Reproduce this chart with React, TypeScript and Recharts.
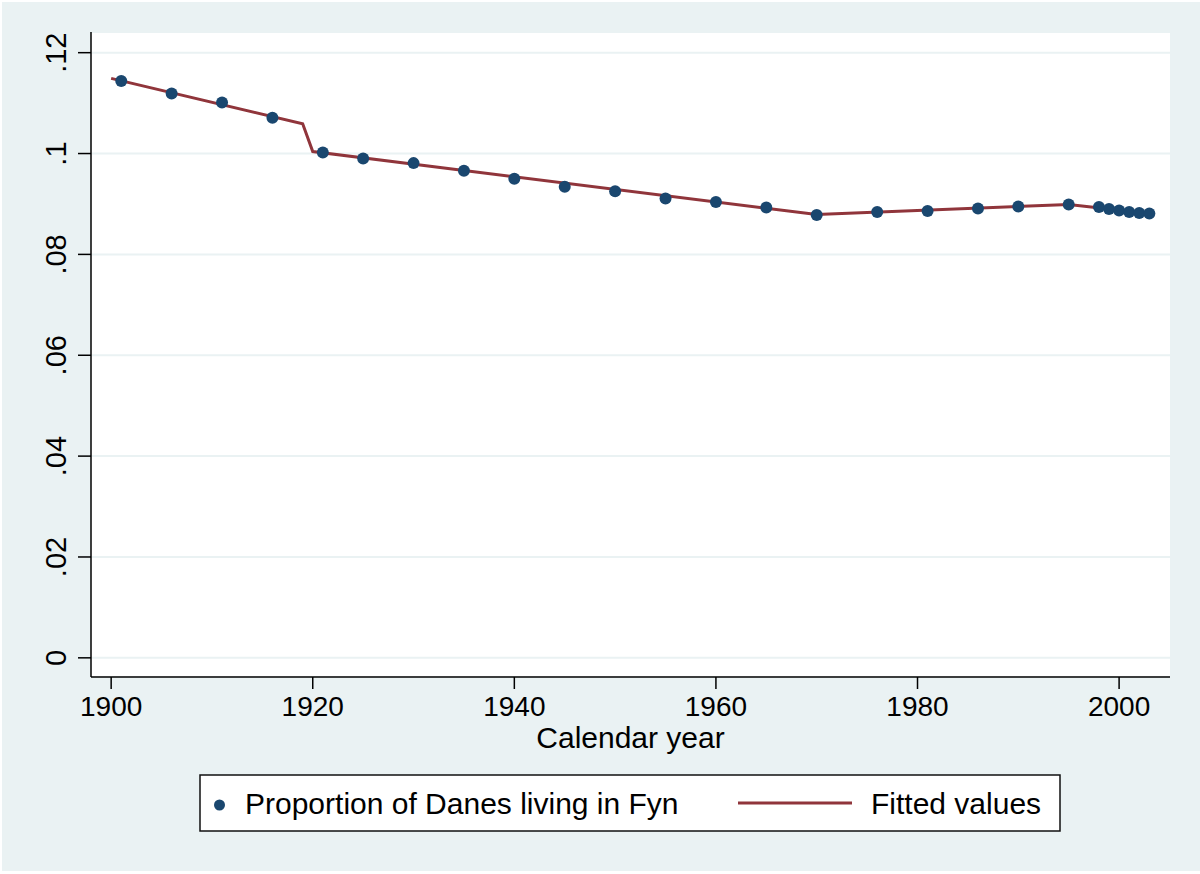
import { CartesianGrid, Label, Scatter, ScatterChart, XAxis, YAxis } from 'recharts';

// observed share of the Danish population living on Fyn
const obsYears = [
	1901, 1906, 1911, 1916, 1921, 1925, 1930, 1935, 1940, 1945, 1950, 1955, 1960,
	1965, 1970, 1976, 1981, 1986, 1990, 1995, 1998, 1999, 2000, 2001, 2002, 2003,
];
const obsShare = [
	0.1144, 0.1119, 0.1101, 0.1071, 0.1002, 0.099, 0.0981, 0.0966, 0.095, 0.0934,
	0.0925, 0.0911, 0.0904, 0.0893, 0.0878, 0.0884, 0.0886, 0.0891, 0.0895, 0.0899,
	0.0894, 0.089, 0.0887, 0.0884, 0.0882, 0.0881,
];

// fitted piecewise line (knots)
const fitYears = [1900, 1919, 1920, 1970, 1995, 2003];
const fitShare = [0.1149, 0.1059, 0.1004, 0.0879, 0.0899, 0.0881];

const xTicks = [1900, 1920, 1940, 1960, 1980, 2000];
const yTicks = [0, 0.02, 0.04, 0.06, 0.08, 0.1, 0.12];

const seriesLabel = 'Proportion of Danes living in Fyn';
const fitLabel = 'Fitted values';
const xTitle = 'Calendar year';

const observed = obsYears.map((year, i) => ({ year, share: obsShare[i] }));
const fitted = fitYears.map((year, i) => ({ year, share: fitShare[i] }));

const BG = '#EAF2F3';
const NAVY = '#1A476F';
const MAROON = '#90353B';
const FONT = '"Liberation Sans", Arial, Helvetica, sans-serif';

function fmtShare(v: number): string {
	if (v === 0) return '0';
	return String(Number(v.toFixed(2))).replace(/^0/, '');
}

const YTick = ({ y, payload }: any) => (
	<text
		x={66}
		y={y}
		transform={`rotate(-90, 66, ${y})`}
		textAnchor="middle"
		fontSize={29}
		fontFamily={FONT}
		fill="#000"
	>
		{fmtShare(payload.value)}
	</text>
);

const Dot = ({ cx, cy }: any) => <circle cx={cx} cy={cy} r={6} fill={NAVY} />;
const NoShape = () => <g />;

export default function App() {
	return (
		<div
			style={{
				position: 'absolute',
				left: 0,
				top: 0,
				width: 1200,
				height: 874,
				background: '#fff',
				fontFamily: FONT,
			}}
		>
			<div
				style={{
					position: 'absolute',
					left: 2,
					top: 2,
					width: 1198,
					height: 869,
					background: BG,
				}}
			/>
			<div style={{ position: 'absolute', left: 0, top: 0 }}>
				<ScatterChart
					width={1200}
					height={874}
					margin={{ top: 32, right: 30, bottom: 117, left: 0 }}
				>
					<CartesianGrid
						vertical={false}
						stroke={BG}
						strokeWidth={2}
						fill="#ffffff"
						fillOpacity={1}
					/>
					<XAxis
						type="number"
						dataKey="year"
						domain={[1898, 2005.05]}
						ticks={xTicks}
						interval={0}
						height={80}
						tickSize={12}
						tickMargin={7}
						axisLine={{ stroke: '#000', strokeWidth: 1.5 }}
						tickLine={{ stroke: '#000', strokeWidth: 1.5 }}
						tick={{ fontSize: 28, fill: '#000', fontFamily: FONT }}
					>
						<Label
							value={xTitle}
							position="insideBottom"
							offset={9}
							fontSize={30}
							fill="#000"
							fontFamily={FONT}
						/>
					</XAxis>
					<YAxis
						type="number"
						dataKey="share"
						domain={[-0.0038, 0.1241]}
						allowDataOverflow
						ticks={yTicks}
						interval={0}
						width={91}
						tickSize={13}
						axisLine={{ stroke: '#000', strokeWidth: 1.5 }}
						tickLine={{ stroke: '#000', strokeWidth: 1.5 }}
						tick={<YTick />}
					/>
					<Scatter
						data={fitted}
						line={{ stroke: MAROON, strokeWidth: 3 }}
						lineType="joint"
						shape={<NoShape />}
						isAnimationActive={false}
					/>
					<Scatter
						data={observed}
						shape={<Dot />}
						isAnimationActive={false}
					/>
				</ScatterChart>
			</div>

			{/* legend box */}
			<svg
				width={862}
				height={58}
				style={{ position: 'absolute', left: 199, top: 774 }}
			>
				<rect
					x={1}
					y={1}
					width={860}
					height={56}
					fill="#fff"
					stroke="#111"
					strokeWidth={1.5}
				/>
				<circle cx={20.5} cy={31} r={5.5} fill={NAVY} />
				<text x={46} y={40} fontSize={30} fontFamily={FONT} fill="#000">
					{seriesLabel}
				</text>
				<line x1={539} y1={29} x2={653} y2={29} stroke={MAROON} strokeWidth={3} />
				<text x={672} y={40} fontSize={30} fontFamily={FONT} fill="#000">
					{fitLabel}
				</text>
			</svg>
		</div>
	);
}
